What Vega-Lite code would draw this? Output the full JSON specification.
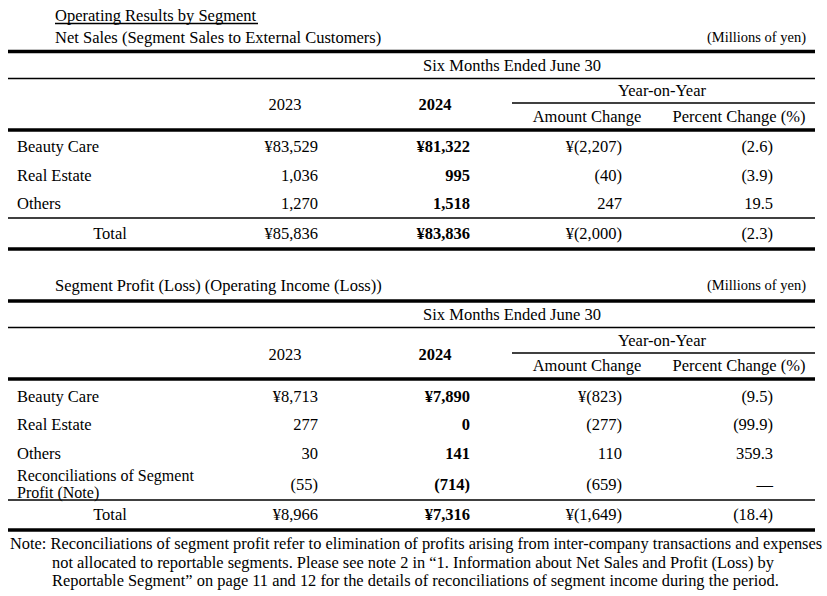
{
  "$schema": "https://vega.github.io/schema/vega-lite/v6.json",
  "width": 827,
  "height": 596,
  "padding": 0,
  "autosize": {"type": "none"},
  "background": "white",
  "config": {"view": {"stroke": null}, "text": {"font": "Liberation Serif", "color": "black"}},
  "datasets": {
    "cells": [
      {"line": 0, "x": 4, "text": "Operating Results by Segment"},
      {"line": 2, "x": 4, "text": "Net Sales (Segment Sales to External Customers)"},
      {"line": 2, "x": 17, "text": "(Millions of yen)"},
      {"line": 4, "x": 11, "text": "Six Months Ended June 30"},
      {"line": 6, "x": 14, "text": "Year-on-Year"},
      {"line": 8, "x": 7, "text": "2023"},
      {"line": 8, "x": 9, "text": "2024"},
      {"line": 9, "x": 12, "text": "Amount Change"},
      {"line": 9, "x": 15, "text": "Percent Change (%)"},
      {"line": 11, "x": 2, "text": "Beauty Care"},
      {"line": 11, "x": 8, "text": "¥83,529"},
      {"line": 11, "x": 10, "text": "¥81,322"},
      {"line": 11, "x": 13, "text": "¥(2,207)"},
      {"line": 11, "x": 16, "text": "(2.6)"},
      {"line": 12, "x": 2, "text": "Real Estate"},
      {"line": 12, "x": 8, "text": "1,036"},
      {"line": 12, "x": 10, "text": "995"},
      {"line": 12, "x": 13, "text": "(40)"},
      {"line": 12, "x": 16, "text": "(3.9)"},
      {"line": 13, "x": 2, "text": "Others"},
      {"line": 13, "x": 8, "text": "1,270"},
      {"line": 13, "x": 10, "text": "1,518"},
      {"line": 13, "x": 13, "text": "247"},
      {"line": 13, "x": 16, "text": "19.5"},
      {"line": 15, "x": 5, "text": "Total"},
      {"line": 15, "x": 8, "text": "¥85,836"},
      {"line": 15, "x": 10, "text": "¥83,836"},
      {"line": 15, "x": 13, "text": "¥(2,000)"},
      {"line": 15, "x": 16, "text": "(2.3)"},
      {"line": 17, "x": 4, "text": "Segment Profit (Loss) (Operating Income (Loss))"},
      {"line": 17, "x": 17, "text": "(Millions of yen)"},
      {"line": 19, "x": 11, "text": "Six Months Ended June 30"},
      {"line": 21, "x": 14, "text": "Year-on-Year"},
      {"line": 23, "x": 7, "text": "2023"},
      {"line": 23, "x": 9, "text": "2024"},
      {"line": 24, "x": 12, "text": "Amount Change"},
      {"line": 24, "x": 15, "text": "Percent Change (%)"},
      {"line": 26, "x": 2, "text": "Beauty Care"},
      {"line": 26, "x": 8, "text": "¥8,713"},
      {"line": 26, "x": 10, "text": "¥7,890"},
      {"line": 26, "x": 13, "text": "¥(823)"},
      {"line": 26, "x": 16, "text": "(9.5)"},
      {"line": 27, "x": 2, "text": "Real Estate"},
      {"line": 27, "x": 8, "text": "277"},
      {"line": 27, "x": 10, "text": "0"},
      {"line": 27, "x": 13, "text": "(277)"},
      {"line": 27, "x": 16, "text": "(99.9)"},
      {"line": 28, "x": 2, "text": "Others"},
      {"line": 28, "x": 8, "text": "30"},
      {"line": 28, "x": 10, "text": "141"},
      {"line": 28, "x": 13, "text": "110"},
      {"line": 28, "x": 16, "text": "359.3"},
      {"line": 29, "x": 2, "text": "Reconciliations of Segment"},
      {"line": 31, "x": 2, "text": "Profit (Note)"},
      {"line": 30, "x": 8, "text": "(55)"},
      {"line": 30, "x": 10, "text": "(714)"},
      {"line": 30, "x": 13, "text": "(659)"},
      {"line": 30, "x": 16, "text": "—"},
      {"line": 33, "x": 5, "text": "Total"},
      {"line": 33, "x": 8, "text": "¥8,966"},
      {"line": 33, "x": 10, "text": "¥7,316"},
      {"line": 33, "x": 13, "text": "¥(1,649)"},
      {"line": 33, "x": 16, "text": "(18.4)"},
      {"line": 35, "x": 1, "text": "Note: Reconciliations of segment profit refer to elimination of profits arising from inter-company transactions and expenses"},
      {"line": 36, "x": 3, "text": "not allocated to reportable segments. Please see note 2 in “1. Information about Net Sales and Profit (Loss) by"},
      {"line": 37, "x": 3, "text": "Reportable Segment” on page 11 and 12 for the details of reconciliations of segment income during the period."}
    ],
    "rules": [
      {"line": 1, "x": 4, "xEnd": 6},
      {"line": 3, "x": 0, "xEnd": 18},
      {"line": 5, "x": 0, "xEnd": 18},
      {"line": 7, "x": 11, "xEnd": 18},
      {"line": 10, "x": 0, "xEnd": 18},
      {"line": 14, "x": 0, "xEnd": 18},
      {"line": 16, "x": 0, "xEnd": 18},
      {"line": 18, "x": 0, "xEnd": 18},
      {"line": 20, "x": 0, "xEnd": 18},
      {"line": 22, "x": 11, "xEnd": 18},
      {"line": 25, "x": 0, "xEnd": 18},
      {"line": 32, "x": 0, "xEnd": 18},
      {"line": 34, "x": 0, "xEnd": 18}
    ]
  },
  "encoding": {
    "x": {"field": "x", "type": "quantitative", "axis": null,
      "scale": {"domain": [0,1,2,3,4,5,6,7,8,9,10,11,12,13,14,15,16,17,18],
                "range": [8,10,17,52,55,110,258,285,318,435,470,512,587,622,662,739,773,806,815],
                "zero": false, "nice": false}},
    "y": {"field": "line", "type": "quantitative", "axis": null,
      "scale": {"domain": [0,1,2,3,4,5,6,7,8,9,10,11,12,13,14,15,16,17,18,19,20,21,22,23,24,25,26,27,28,29,30,31,32,33,34,35,36,37],
                "range": [16,23.5,38,51.5,65.5,78.5,91,103,104.5,117,130,146.5,175.5,203.5,218,234,249,285.5,301,315,327.5,341,353,354.5,366,379,396.5,425,453.5,476,485,493,500,515,530,543.5,562.5,581],
                "zero": false, "nice": false}}
  },
  "layer": [
    {
      "data": {"name": "rules"},
      "transform": [{"filter": {"not": {"field": "line", "oneOf": [3, 10, 16, 18, 25, 34]}}}],
      "mark": {"type": "rule", "color": "black", "strokeWidth": 1.3},
      "encoding": {"x2": {"field": "xEnd"}}
    },
    {
      "data": {"name": "rules"},
      "transform": [{"filter": {"field": "line", "oneOf": [3, 10, 16, 18, 25, 34]}}],
      "mark": {"type": "rule", "color": "black", "strokeWidth": 3.5},
      "encoding": {"x2": {"field": "xEnd"}}
    },
    {
      "data": {"name": "cells"},
      "transform": [{"filter": {"and": [{"field": "x", "oneOf": [2, 4]}, {"field": "line", "lt": 35}, {"not": {"field": "line", "oneOf": [29, 31]}}]}}],
      "mark": {"type": "text", "align": "left", "baseline": "middle", "fontSize": 16.5},
      "encoding": {"text": {"field": "text"}}
    },
    {
      "data": {"name": "cells"},
      "transform": [{"filter": {"field": "line", "oneOf": [29, 31]}}],
      "mark": {"type": "text", "align": "left", "baseline": "middle", "fontSize": 16},
      "encoding": {"text": {"field": "text"}}
    },
    {
      "data": {"name": "cells"},
      "transform": [{"filter": {"field": "line", "gte": 35}}],
      "mark": {"type": "text", "align": "left", "baseline": "middle", "fontSize": 16.4},
      "encoding": {"text": {"field": "text"}}
    },
    {
      "data": {"name": "cells"},
      "transform": [{"filter": {"field": "x", "oneOf": [5, 7, 11, 12, 14, 15]}}],
      "mark": {"type": "text", "align": "center", "baseline": "middle", "fontSize": 16.5},
      "encoding": {"text": {"field": "text"}}
    },
    {
      "data": {"name": "cells"},
      "transform": [{"filter": {"field": "x", "equal": 9}}],
      "mark": {"type": "text", "align": "center", "baseline": "middle", "fontSize": 16.5, "fontWeight": "bold"},
      "encoding": {"text": {"field": "text"}}
    },
    {
      "data": {"name": "cells"},
      "transform": [{"filter": {"field": "x", "oneOf": [8, 13, 16]}}],
      "mark": {"type": "text", "align": "right", "baseline": "middle", "fontSize": 16.5},
      "encoding": {"text": {"field": "text"}}
    },
    {
      "data": {"name": "cells"},
      "transform": [{"filter": {"field": "x", "equal": 17}}],
      "mark": {"type": "text", "align": "right", "baseline": "middle", "fontSize": 14.5},
      "encoding": {"text": {"field": "text"}}
    },
    {
      "data": {"name": "cells"},
      "transform": [{"filter": {"field": "x", "equal": 10}}],
      "mark": {"type": "text", "align": "right", "baseline": "middle", "fontSize": 16.5, "fontWeight": "bold"},
      "encoding": {"text": {"field": "text"}}
    }
  ]
}
